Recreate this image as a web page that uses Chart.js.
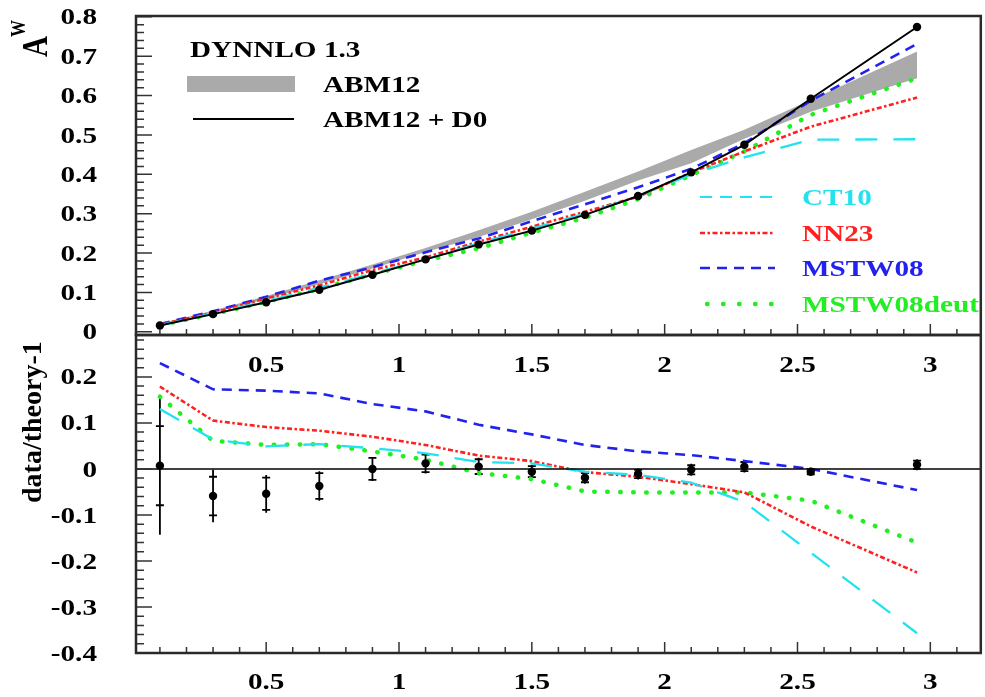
<!DOCTYPE html>
<html>
<head>
<meta charset="utf-8">
<script src="https://cdn.jsdelivr.net/npm/chart.js"></script>
<style>
  html, body { margin: 0; padding: 0; background: #fff; }
  #wrap { position: relative; width: 985px; height: 697px; }
  #wrap canvas { position: absolute; left: 0; top: 0; }
</style>
</head>
<body>
<div id="wrap">
  <canvas id="ratio" width="985" height="697"></canvas>
  <canvas id="asym" width="985" height="697"></canvas>
</div>
<script>
// W charge asymmetry vs lepton rapidity
const etaW = [0.1, 0.3, 0.5, 0.7, 0.9, 1.1, 1.3, 1.5, 1.7, 1.9, 2.1, 2.3, 2.55, 2.95];

// upper panel: A^W
const abmD0      = [0.016, 0.045, 0.075, 0.107, 0.145, 0.184, 0.222, 0.257, 0.297, 0.345, 0.405, 0.475, 0.592, 0.774];
const abmLo      = [0.018, 0.049, 0.083, 0.121, 0.161, 0.203, 0.241, 0.286, 0.333, 0.384, 0.428, 0.490, 0.559, 0.644];
const abmHi      = [0.020, 0.054, 0.091, 0.131, 0.171, 0.213, 0.258, 0.305, 0.356, 0.407, 0.462, 0.513, 0.589, 0.712];
const ct10       = [0.017, 0.046, 0.078, 0.111, 0.148, 0.184, 0.225, 0.262, 0.300, 0.345, 0.400, 0.443, 0.488, 0.489];
const nn23       = [0.019, 0.048, 0.085, 0.118, 0.157, 0.189, 0.229, 0.267, 0.305, 0.343, 0.405, 0.458, 0.521, 0.595];
const mstw08     = [0.020, 0.052, 0.089, 0.130, 0.164, 0.202, 0.237, 0.281, 0.324, 0.367, 0.414, 0.479, 0.587, 0.731];
const mstw08deut = [0.017, 0.045, 0.076, 0.109, 0.146, 0.181, 0.212, 0.252, 0.290, 0.337, 0.398, 0.458, 0.551, 0.644];

// lower panel: data/theory-1
const ratioData = [0.007, -0.059, -0.054, -0.037, 0.000, 0.012, 0.005, -0.006, -0.019, -0.011, -0.002, 0.005, -0.006, 0.009];
const ratioTot  = [0.150, 0.057, 0.041, 0.032, 0.026, 0.022, 0.019, 0.015, 0.013, 0.012, 0.013, 0.013, 0.008, 0.012];
const ratioStat = [0.086, 0.042, 0.035, 0.028, 0.024, 0.019, 0.016, 0.012, 0.010, 0.009, 0.010, 0.010, 0.006, 0.009];
const ratioCt10 = [0.130, 0.064, 0.049, 0.054, 0.045, 0.034, 0.015, 0.012, -0.006, -0.013, -0.030, -0.072, -0.182, -0.357];
const ratioNn23 = [0.179, 0.105, 0.091, 0.083, 0.070, 0.052, 0.029, 0.017, -0.007, -0.017, -0.033, -0.051, -0.125, -0.225];
const ratioMstw = [0.230, 0.173, 0.170, 0.164, 0.141, 0.125, 0.096, 0.075, 0.052, 0.038, 0.030, 0.017, 0.000, -0.046];
const ratioDeut = [0.157, 0.061, 0.052, 0.054, 0.038, 0.020, -0.009, -0.022, -0.049, -0.051, -0.051, -0.051, -0.069, -0.160];

// tick labels
const xTickLabels = ['0.5', '1', '1.5', '2', '2.5', '3'];
const yTopLabels  = ['0', '0.1', '0.2', '0.3', '0.4', '0.5', '0.6', '0.7', '0.8'];
const yBotLabels  = ['-0.4', '-0.3', '-0.2', '-0.1', '0', '0.1', '0.2'];

const FONT = '"Liberation Serif", "Times New Roman", serif';
const SX = 1.27;   // wide lettering

const C_CT10 = '#22e2f0';
const C_NN23 = '#ff2020';
const C_MSTW = '#2222ee';
const C_DEUT = '#22ee22';

function pts(ys) {
    return etaW.map((x, i) => ({ x: x, y: ys[i] }));
}

function wideText(ctx, str, x, y, size, align, color) {
    ctx.save();
    ctx.font = 'bold ' + size + 'px ' + FONT;
    ctx.fillStyle = color || '#000';
    ctx.textAlign = align;
    ctx.textBaseline = 'alphabetic';
    ctx.translate(x, y + size * 0.33);
    ctx.scale(SX, 1);
    ctx.fillText(str, 0, 0);
    ctx.restore();
}

// frame, inward ticks and labels (ROOT style)
function axesDeco(cfg) {
    return {
        id: 'axesDeco',
        afterDatasetsDraw(chart) {
            const ctx = chart.ctx, a = chart.chartArea;
            const x = chart.scales.x, y = chart.scales.y;
            ctx.save();
            if (cfg.zeroLine) {
                ctx.strokeStyle = '#000';
                ctx.lineWidth = 1.5;
                ctx.beginPath();
                ctx.moveTo(a.left, y.getPixelForValue(0));
                ctx.lineTo(a.right, y.getPixelForValue(0));
                ctx.stroke();
            }
            ctx.strokeStyle = '#333';
            ctx.lineWidth = 1.5;
            ctx.beginPath();
            for (let i = cfg.yFrom; i <= cfg.yTo; i++) {
                const py = y.getPixelForValue(i * 0.02);
                const len = i % 5 === 0 ? 16 : 8;
                ctx.moveTo(a.left, py);
                ctx.lineTo(a.left + len, py);
            }
            for (let i = 1; i * 0.1 < x.max; i++) {
                const px = x.getPixelForValue(i * 0.1);
                const len = i % 5 === 0 ? 11 : 6;
                ctx.moveTo(px, a.bottom);
                ctx.lineTo(px, a.bottom - len);
            }
            ctx.stroke();
            ctx.lineWidth = 2.5;
            ctx.strokeStyle = '#2a2a2a';
            ctx.strokeRect(a.left, a.top, a.right - a.left, a.bottom - a.top);
            ctx.restore();

            cfg.yLabels.forEach(l => {
                wideText(ctx, l, 97, y.getPixelForValue(parseFloat(l)), 23, 'right');
            });
            xTickLabels.forEach(l => {
                wideText(ctx, l, x.getPixelForValue(parseFloat(l)), cfg.xLabelY, 23, 'center');
            });
        }
    };
}

const legendTop = {
    id: 'legendTop',
    afterDraw(chart) {
        const ctx = chart.ctx;
        ctx.save();
        wideText(ctx, 'DYNNLO 1.3', 190, 49, 23, 'left');
        ctx.fillStyle = '#aaaaaa';
        ctx.fillRect(187, 76, 108, 16);
        wideText(ctx, 'ABM12', 323, 84, 23, 'left');
        ctx.strokeStyle = '#000';
        ctx.lineWidth = 2;
        ctx.beginPath();
        ctx.moveTo(193, 119);
        ctx.lineTo(294, 119);
        ctx.stroke();
        wideText(ctx, 'ABM12 + D0', 323, 119, 23, 'left');

        const rows = [
            { label: 'CT10', color: C_CT10, dash: [12, 8], w: 2.2, cap: 'butt', y: 197 },
            { label: 'NN23', color: C_NN23, dash: [5, 2.5, 2.5, 2.5], w: 2.6, cap: 'butt', y: 233 },
            { label: 'MSTW08', color: C_MSTW, dash: [10, 7], w: 2.6, cap: 'butt', y: 268 },
            { label: 'MSTW08deut', color: C_DEUT, dash: [0.5, 15.5], w: 4.5, cap: 'round', y: 304 }
        ];
        rows.forEach(r => {
            ctx.strokeStyle = r.color;
            ctx.lineWidth = r.w;
            ctx.lineCap = r.cap;
            ctx.setLineDash(r.dash);
            ctx.beginPath();
            ctx.moveTo(r.cap === 'round' ? 707 : 700, r.y);
            ctx.lineTo(775, r.y);
            ctx.stroke();
            wideText(ctx, r.label, 802, r.y, 23, 'left', r.color);
        });
        ctx.setLineDash([]);

        // y title A^W, rotated
        ctx.fillStyle = '#000';
        ctx.textAlign = 'left';
        ctx.textBaseline = 'alphabetic';
        ctx.translate(47, 57);
        ctx.rotate(-Math.PI / 2);
        ctx.scale(1, 1.25);
        ctx.font = 'bold 29px ' + FONT;
        ctx.fillText('A', 0, 0);
        ctx.font = 'bold 17px ' + FONT;
        ctx.fillText('W', 20, -17.5);
        ctx.restore();
    }
};

const errorBars = {
    id: 'errorBars',
    beforeDatasetsDraw(chart) {
        const ctx = chart.ctx, x = chart.scales.x, y = chart.scales.y;
        ctx.save();
        ctx.strokeStyle = '#000';
        ctx.lineWidth = 1.8;
        ctx.beginPath();
        etaW.forEach((e, i) => {
            const px = x.getPixelForValue(e);
            ctx.moveTo(px, y.getPixelForValue(ratioData[i] - ratioTot[i]));
            ctx.lineTo(px, y.getPixelForValue(ratioData[i] + ratioTot[i]));
            [-1, 1].forEach(s => {
                const py = y.getPixelForValue(ratioData[i] + s * ratioStat[i]);
                ctx.moveTo(px - 4, py);
                ctx.lineTo(px + 4, py);
            });
        });
        ctx.stroke();
        ctx.restore();
    },
    afterDraw(chart) {
        const ctx = chart.ctx;
        ctx.save();
        ctx.fillStyle = '#000';
        ctx.font = 'bold 28px ' + FONT;
        ctx.textAlign = 'left';
        ctx.textBaseline = 'alphabetic';
        ctx.translate(41, 503);
        ctx.rotate(-Math.PI / 2);
        ctx.fillText('data/theory-1', 0, 0);
        ctx.restore();
    }
};

function curveSets(c, n, m, d) {
    return [
        { data: pts(c), borderColor: C_CT10, borderWidth: 2.3, borderDash: [22, 16] },
        { data: pts(n), borderColor: C_NN23, borderWidth: 2.6, borderDash: [5, 2.5, 2.5, 2.5] },
        { data: pts(m), borderColor: C_MSTW, borderWidth: 2.6, borderDash: [10, 7] },
        { data: pts(d), borderColor: C_DEUT, borderWidth: 4.5, borderDash: [0.5, 12.5], borderCapStyle: 'round' }
    ];
}

const common = {
    responsive: false,
    animation: false,
    devicePixelRatio: 1,
    plugins: { legend: { display: false }, tooltip: { enabled: false } },
    elements: { line: { tension: 0, fill: false }, point: { radius: 0 } }
};

new Chart(document.getElementById('asym'), {
    type: 'line',
    data: {
        datasets: [
            { data: pts(abmD0), borderColor: '#000', borderWidth: 2, pointRadius: 4.2,
              pointBackgroundColor: '#000', pointBorderWidth: 0 },
            ...curveSets(ct10, nn23, mstw08, mstw08deut),
            { data: pts(abmLo), borderWidth: 0, borderColor: 'rgba(0,0,0,0)' },
            { data: pts(abmHi), borderWidth: 0, borderColor: 'rgba(0,0,0,0)',
              backgroundColor: '#aaaaaa', fill: '-1' }
        ]
    },
    options: Object.assign({}, common, {
        layout: { padding: { left: 136, top: 16, right: 2, bottom: 362 } },
        scales: {
            x: { type: 'linear', min: 0.01, max: 3.19, display: false },
            y: { min: -0.008, max: 0.802, display: false }
        }
    }),
    plugins: [axesDeco({ yFrom: 0, yTo: 40, yLabels: yTopLabels, xLabelY: 364 }), legendTop]
});

new Chart(document.getElementById('ratio'), {
    type: 'line',
    data: {
        datasets: [
            { data: pts(ratioData), showLine: false, pointRadius: 4.2,
              pointBackgroundColor: '#000', pointBorderWidth: 0 },
            ...curveSets(ratioCt10, ratioNn23, ratioMstw, ratioDeut)
        ]
    },
    options: Object.assign({}, common, {
        layout: { padding: { left: 136, top: 335, right: 2, bottom: 44 } },
        scales: {
            x: { type: 'linear', min: 0.01, max: 3.19, display: false },
            y: { min: -0.4, max: 0.291, display: false }
        }
    }),
    plugins: [errorBars, axesDeco({ yFrom: -20, yTo: 14, yLabels: yBotLabels, xLabelY: 681, zeroLine: true })]
});
</script>
</body>
</html>
